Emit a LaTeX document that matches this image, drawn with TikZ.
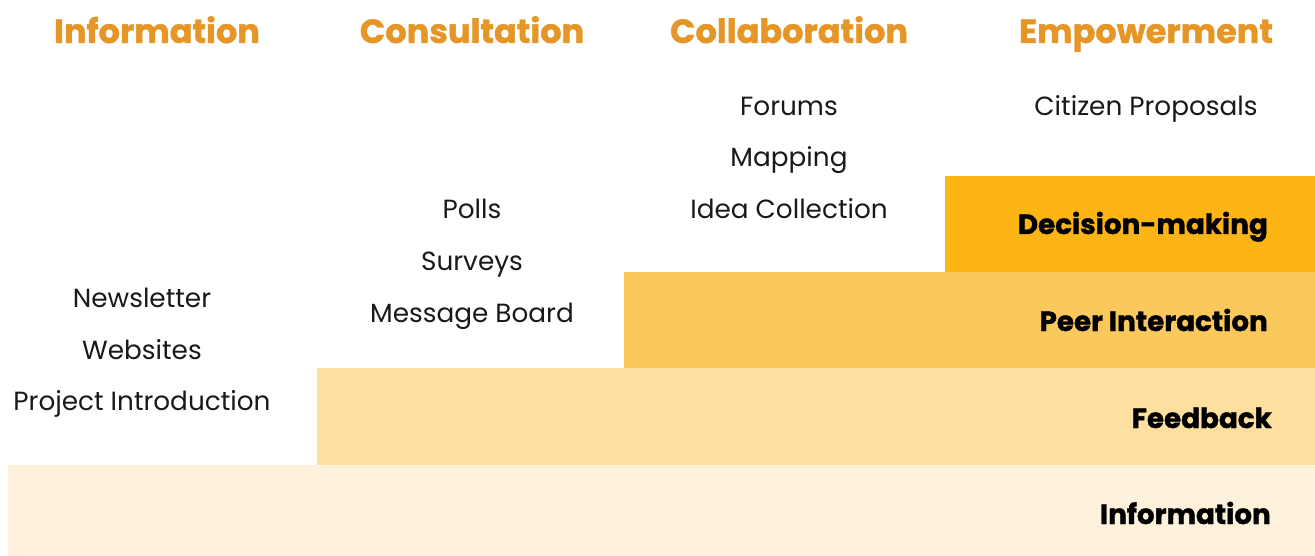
\documentclass[tikz,border=0pt]{standalone}
\usepackage{fontspec}
\setmainfont{Poppins}
\newfontfamily\heavy{Poppins}[BoldFeatures={FakeBold=1.2}]
\definecolor{hdr}{HTML}{E59627}
\definecolor{lvA}{HTML}{FDF1DC}
\definecolor{lvB}{HTML}{FDE0A0}
\definecolor{lvC}{HTML}{FBC85C}
\definecolor{lvD}{HTML}{FDB515}
\begin{document}
\begin{tikzpicture}[x=1pt,y=-1pt,
  header/.style={font=\heavy\fontsize{33.5}{36}\selectfont\bfseries, text=hdr, inner sep=0pt, anchor=base},
  item/.style={font=\fontsize{26.3}{28}\selectfont, text=black!90, inner sep=0pt, anchor=base},
  level/.style={font=\heavy\fontsize{27.8}{30}\selectfont\bfseries, text=black, anchor=base east, inner sep=0pt}]
\useasboundingbox (0,0) rectangle (1315,556);
% stepped levels
\fill[lvA] (8,465) rectangle (1315,556);
\fill[lvB] (317,368) rectangle (1315,465);
\fill[lvC] (624,272) rectangle (1315,368);
\fill[lvD] (945,176) rectangle (1315,272);
% column headers
\node[header] (h1) at (157,43) {Information};
\node[header] (h2) at (472,43) {Consultation};
\node[header] (h3) at (789,43) {Collaboration};
\node[header] (h4) at (1146,43) {Empowerment};
% tools per column
\node[item] (i1) at (142,307) {Newsletter};
\node[item] (i2) at (142,359) {Websites};
\node[item] (i3) at (142,410) {Project Introduction};
\node[item] (c1) at (472,219) {Polls};
\node[item] (c2) at (472,271) {Surveys};
\node[item] (c3) at (472,322) {Message Board};
\node[item] (k1) at (789,116) {Forums};
\node[item] (k2) at (789,167) {Mapping};
\node[item] (k3) at (789,219) {Idea Collection};
\node[item] (e1) at (1146,116) {Citizen Proposals};
% level labels
\node[level] (l4) at (1268,234) {Decision-making};
\node[level] (l3) at (1268,331) {Peer Interaction};
\node[level] (l2) at (1272,428) {Feedback};
\node[level] (l1) at (1271,524) {Information};
\end{tikzpicture}
\end{document}
